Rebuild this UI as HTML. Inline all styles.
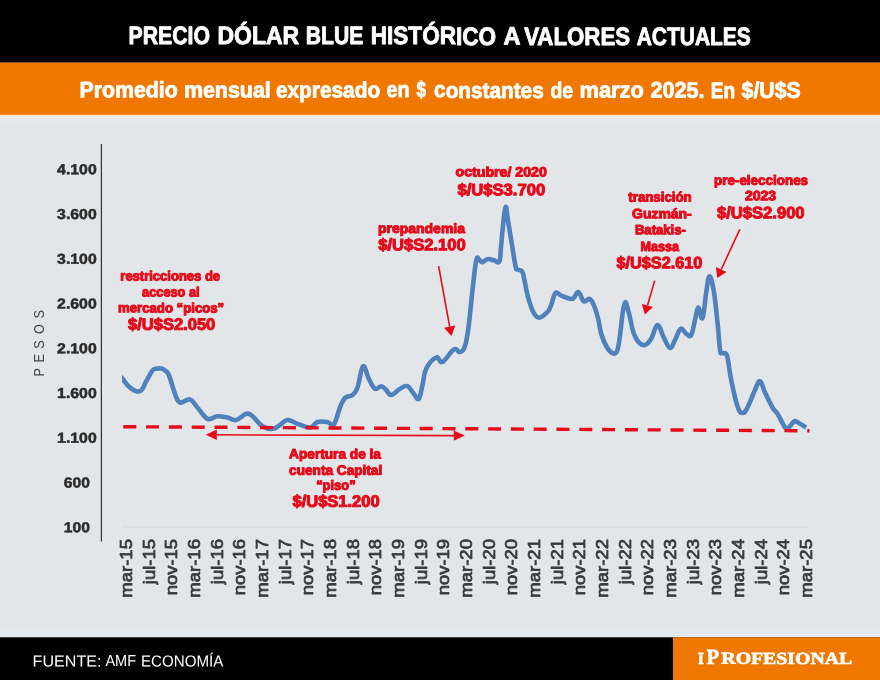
<!DOCTYPE html>
<html lang="es"><head><meta charset="utf-8"><title>Precio dólar blue histórico a valores actuales</title>
<style>
html,body{margin:0;padding:0;background:#e3e6e8;}
body{width:880px;height:680px;overflow:hidden;}
svg{display:block;}
text{font-family:"Liberation Sans",sans-serif;}
.b{font-weight:bold;fill:#fff;stroke:#fff;stroke-linejoin:round;}
.t1{font-size:25px;stroke-width:0.9px;}
.t2{font-size:22.35px;stroke-width:0.8px;}
.r{fill:#e60a1a;font-weight:bold;stroke:#e60a1a;stroke-width:1.05px;stroke-linejoin:round;}
.ft{font-size:15.9px;fill:#fff;}
.yl{fill:#2b2b2b;font-weight:bold;font-size:14.4px;stroke:#2b2b2b;stroke-width:0.5px;stroke-linejoin:round;}
.xl{fill:#3a3a3a;font-size:16.9px;stroke:#3a3a3a;stroke-width:0.75px;stroke-linejoin:round;}
.logo{font-family:"Liberation Serif",serif;font-weight:bold;fill:#fff;stroke:#fff;stroke-width:0.7px;}
</style></head><body>
<svg width="880" height="680" viewBox="0 0 880 680">
<rect x="0" y="0" width="880" height="680" fill="#e3e6e8"/>
<rect x="0" y="0" width="880" height="62.7" fill="#000"/>
<rect x="0" y="62.7" width="880" height="52.8" fill="#f07800"/>
<rect x="0" y="114.8" width="880" height="1.7" fill="#fbe2c6"/>
<rect x="0" y="116.5" width="880" height="1.5" fill="#f1eeea"/>
<rect x="0" y="118" width="880" height="4" fill="#e2e8ec"/>
<rect x="0" y="628" width="880" height="9.3" fill="#e4e9ed"/>
<rect x="0" y="637.3" width="880" height="42.7" fill="#000"/>
<rect x="673" y="637.3" width="207" height="42.7" fill="#f07800"/>
<text class="b t1" y="44.5" transform="rotate(0.03 440 36)">
<tspan x="128.50" textLength="81.43" lengthAdjust="spacingAndGlyphs">PRECIO</tspan>
<tspan x="217.53" textLength="81.57" lengthAdjust="spacingAndGlyphs">DÓLAR</tspan>
<tspan x="305.80" textLength="57.52" lengthAdjust="spacingAndGlyphs">BLUE</tspan>
<tspan x="370.75" textLength="125.41" lengthAdjust="spacingAndGlyphs">HISTÓRICO</tspan>
<tspan x="503.45" textLength="16.15" lengthAdjust="spacingAndGlyphs">A</tspan>
<tspan x="524.15" textLength="106.00" lengthAdjust="spacingAndGlyphs">VALORES</tspan>
<tspan x="636.65" textLength="114.17" lengthAdjust="spacingAndGlyphs">ACTUALES</tspan>
</text>
<text class="b t2" y="97.5" transform="rotate(0.03 441 90)">
<tspan x="79.45" textLength="98.27" lengthAdjust="spacingAndGlyphs">Promedio</tspan>
<tspan x="183.94" textLength="86.81" lengthAdjust="spacingAndGlyphs">mensual</tspan>
<tspan x="275.90" textLength="104.31" lengthAdjust="spacingAndGlyphs">expresado</tspan>
<tspan x="386.60" textLength="23.07" lengthAdjust="spacingAndGlyphs">en</tspan>
<tspan x="416.60" textLength="9.56" lengthAdjust="spacingAndGlyphs">$</tspan>
<tspan x="434.10" textLength="109.60" lengthAdjust="spacingAndGlyphs">constantes</tspan>
<tspan x="550.40" textLength="22.57" lengthAdjust="spacingAndGlyphs">de</tspan>
<tspan x="579.42" textLength="64.52" lengthAdjust="spacingAndGlyphs">marzo</tspan>
<tspan x="650.40" textLength="54.07" lengthAdjust="spacingAndGlyphs">2025.</tspan>
<tspan x="710.75" textLength="24.41" lengthAdjust="spacingAndGlyphs">En</tspan>
<tspan x="741.60" textLength="59.11" lengthAdjust="spacingAndGlyphs">$/U$S</tspan>
</text>
<text class="ft" y="666.5" transform="rotate(0.03 129 661)">
<tspan x="32.59" textLength="68.85" lengthAdjust="spacingAndGlyphs">FUENTE:</tspan>
<tspan x="105.40" textLength="30.63" lengthAdjust="spacingAndGlyphs">AMF</tspan>
<tspan x="140.95" textLength="82.37" lengthAdjust="spacingAndGlyphs">ECONOMÍA</tspan>
</text>
<text class="logo" y="663.9" transform="rotate(0.03 775 658)"><tspan x="698.05" font-size="17" textLength="5.86" lengthAdjust="spacingAndGlyphs">I</tspan><tspan x="706.65" font-size="21.6" textLength="12.18" lengthAdjust="spacingAndGlyphs">P</tspan><tspan x="721.35" font-size="17" textLength="130.89" lengthAdjust="spacingAndGlyphs">ROFESIONAL</tspan></text>
<rect x="100.8" y="144" width="1.1" height="397.5" fill="#222"/>
<rect x="122" y="526.3" width="685.5" height="1.3" fill="#d6d9db"/>
<text class="yl" x="57.10" y="174.30" textLength="39.60" lengthAdjust="spacingAndGlyphs" transform="rotate(0.03 77 169)">4.100</text>
<text class="yl" x="57.10" y="219.05" textLength="39.60" lengthAdjust="spacingAndGlyphs" transform="rotate(0.03 77 214)">3.600</text>
<text class="yl" x="57.10" y="263.80" textLength="39.60" lengthAdjust="spacingAndGlyphs" transform="rotate(0.03 77 259)">3.100</text>
<text class="yl" x="57.10" y="308.55" textLength="39.60" lengthAdjust="spacingAndGlyphs" transform="rotate(0.03 77 304)">2.600</text>
<text class="yl" x="57.10" y="353.30" textLength="39.60" lengthAdjust="spacingAndGlyphs" transform="rotate(0.03 77 348)">2.100</text>
<text class="yl" x="57.10" y="398.05" textLength="39.60" lengthAdjust="spacingAndGlyphs" transform="rotate(0.03 77 393)">1.600</text>
<text class="yl" x="57.10" y="442.80" textLength="39.60" lengthAdjust="spacingAndGlyphs" transform="rotate(0.03 77 438)">1.100</text>
<text class="yl" x="63.85" y="487.55" textLength="26.10" lengthAdjust="spacingAndGlyphs" transform="rotate(0.03 77 483)">600</text>
<text class="yl" x="63.85" y="532.30" textLength="26.10" lengthAdjust="spacingAndGlyphs" transform="rotate(0.03 77 527)">100</text>
<text transform="translate(44.4 375.4) rotate(-90) scale(0.86 1)" font-size="14.8" fill="#444" x="-1.20 14.98 30.93 48.02 66.04">PESOS</text>
<text class="xl" transform="translate(131.90 597.80) rotate(-90)" textLength="58.8" lengthAdjust="spacingAndGlyphs">mar-15</text>
<text class="xl" transform="translate(154.57 584.20) rotate(-90)" textLength="45.2" lengthAdjust="spacingAndGlyphs">jul-15</text>
<text class="xl" transform="translate(177.23 595.20) rotate(-90)" textLength="56.2" lengthAdjust="spacingAndGlyphs">nov-15</text>
<text class="xl" transform="translate(199.90 597.80) rotate(-90)" textLength="58.8" lengthAdjust="spacingAndGlyphs">mar-16</text>
<text class="xl" transform="translate(222.57 584.20) rotate(-90)" textLength="45.2" lengthAdjust="spacingAndGlyphs">jul-16</text>
<text class="xl" transform="translate(245.24 595.20) rotate(-90)" textLength="56.2" lengthAdjust="spacingAndGlyphs">nov-16</text>
<text class="xl" transform="translate(267.90 597.80) rotate(-90)" textLength="58.8" lengthAdjust="spacingAndGlyphs">mar-17</text>
<text class="xl" transform="translate(290.57 584.20) rotate(-90)" textLength="45.2" lengthAdjust="spacingAndGlyphs">jul-17</text>
<text class="xl" transform="translate(313.24 595.20) rotate(-90)" textLength="56.2" lengthAdjust="spacingAndGlyphs">nov-17</text>
<text class="xl" transform="translate(335.90 597.80) rotate(-90)" textLength="58.8" lengthAdjust="spacingAndGlyphs">mar-18</text>
<text class="xl" transform="translate(358.57 584.20) rotate(-90)" textLength="45.2" lengthAdjust="spacingAndGlyphs">jul-18</text>
<text class="xl" transform="translate(381.24 595.20) rotate(-90)" textLength="56.2" lengthAdjust="spacingAndGlyphs">nov-18</text>
<text class="xl" transform="translate(403.90 597.80) rotate(-90)" textLength="58.8" lengthAdjust="spacingAndGlyphs">mar-19</text>
<text class="xl" transform="translate(426.57 584.20) rotate(-90)" textLength="45.2" lengthAdjust="spacingAndGlyphs">jul-19</text>
<text class="xl" transform="translate(449.24 595.20) rotate(-90)" textLength="56.2" lengthAdjust="spacingAndGlyphs">nov-19</text>
<text class="xl" transform="translate(471.90 597.80) rotate(-90)" textLength="58.8" lengthAdjust="spacingAndGlyphs">mar-20</text>
<text class="xl" transform="translate(494.57 584.20) rotate(-90)" textLength="45.2" lengthAdjust="spacingAndGlyphs">jul-20</text>
<text class="xl" transform="translate(517.24 595.20) rotate(-90)" textLength="56.2" lengthAdjust="spacingAndGlyphs">nov-20</text>
<text class="xl" transform="translate(539.91 597.80) rotate(-90)" textLength="58.8" lengthAdjust="spacingAndGlyphs">mar-21</text>
<text class="xl" transform="translate(562.57 584.20) rotate(-90)" textLength="45.2" lengthAdjust="spacingAndGlyphs">jul-21</text>
<text class="xl" transform="translate(585.24 595.20) rotate(-90)" textLength="56.2" lengthAdjust="spacingAndGlyphs">nov-21</text>
<text class="xl" transform="translate(607.91 597.80) rotate(-90)" textLength="58.8" lengthAdjust="spacingAndGlyphs">mar-22</text>
<text class="xl" transform="translate(630.57 584.20) rotate(-90)" textLength="45.2" lengthAdjust="spacingAndGlyphs">jul-22</text>
<text class="xl" transform="translate(653.24 595.20) rotate(-90)" textLength="56.2" lengthAdjust="spacingAndGlyphs">nov-22</text>
<text class="xl" transform="translate(675.91 597.80) rotate(-90)" textLength="58.8" lengthAdjust="spacingAndGlyphs">mar-23</text>
<text class="xl" transform="translate(698.58 584.20) rotate(-90)" textLength="45.2" lengthAdjust="spacingAndGlyphs">jul-23</text>
<text class="xl" transform="translate(721.24 595.20) rotate(-90)" textLength="56.2" lengthAdjust="spacingAndGlyphs">nov-23</text>
<text class="xl" transform="translate(743.91 597.80) rotate(-90)" textLength="58.8" lengthAdjust="spacingAndGlyphs">mar-24</text>
<text class="xl" transform="translate(766.58 584.20) rotate(-90)" textLength="45.2" lengthAdjust="spacingAndGlyphs">jul-24</text>
<text class="xl" transform="translate(789.24 595.20) rotate(-90)" textLength="56.2" lengthAdjust="spacingAndGlyphs">nov-24</text>
<text class="xl" transform="translate(811.91 597.80) rotate(-90)" textLength="58.8" lengthAdjust="spacingAndGlyphs">mar-25</text>
<clipPath id="plot"><rect x="122" y="140" width="700" height="400"/></clipPath>
<path clip-path="url(#plot)" d="M118.5 373.5C119.3 374.6 120.2 375.9 122.5 378.8C124.8 381.6 126.5 385.0 130.0 387.5C133.5 390.0 136.8 392.5 140.0 391.2C143.2 390.0 143.8 385.4 146.2 381.2C148.8 377.1 150.4 373.0 152.5 370.5C154.6 368.0 154.7 369.1 156.5 368.7C158.3 368.3 159.8 368.2 161.5 368.6C163.2 369.0 163.6 369.2 165.0 370.5C166.4 371.8 166.8 370.4 168.8 375.0C170.8 379.6 172.8 388.2 175.0 393.8C177.2 399.2 177.0 401.4 180.0 402.5C183.0 403.6 186.5 398.5 190.0 399.5C193.5 400.5 194.0 403.6 197.5 407.5C201.0 411.4 203.5 417.0 207.5 418.8C211.5 420.5 213.5 416.5 217.5 416.2C221.5 416.0 223.8 416.8 227.5 417.5C231.2 418.2 232.5 420.8 236.2 420.0C240.0 419.2 243.0 414.5 246.2 413.8C249.5 413.0 249.2 413.8 252.5 416.2C255.8 418.8 258.5 423.8 262.5 426.2C266.5 428.8 269.0 429.0 272.5 428.8C276.0 428.5 277.0 426.8 280.0 425.0C283.0 423.2 284.0 420.2 287.5 420.0C291.0 419.8 293.0 422.2 297.5 423.8C302.0 425.2 306.0 427.9 310.0 427.5C314.0 427.1 314.0 423.1 317.5 422.0C321.0 420.9 324.2 421.5 327.5 422.0C330.8 422.5 331.2 427.4 333.8 424.5C336.2 421.6 337.8 412.8 340.0 407.5C342.2 402.2 342.5 400.5 345.0 398.0C347.5 395.5 350.0 397.1 352.5 395.0C355.0 392.9 355.4 393.2 357.5 387.5C359.6 381.8 360.8 368.0 363.0 366.2C365.2 364.5 366.4 374.2 368.8 378.8C371.1 383.2 372.5 387.2 375.0 388.8C377.5 390.2 379.0 386.0 381.2 386.2C383.5 386.5 384.2 388.2 386.2 390.0C388.2 391.8 388.5 395.2 391.2 395.0C394.0 394.8 396.8 390.5 400.0 388.8C403.2 387.0 404.8 385.2 407.5 386.2C410.2 387.2 411.5 391.2 413.8 393.8C416.0 396.2 417.0 400.5 418.8 398.8C420.5 397.0 421.0 391.0 422.5 385.0C424.0 379.0 423.5 374.2 426.2 368.8C429.0 363.2 433.0 358.9 436.2 357.5C439.5 356.1 439.0 363.6 442.5 362.0C446.0 360.4 450.2 351.5 453.8 349.5C457.2 347.5 457.8 352.7 460.0 352.0C462.2 351.3 463.2 351.4 465.0 346.0C466.8 340.6 467.2 336.2 468.8 325.0C470.2 313.8 471.2 301.8 472.5 290.0C473.8 278.2 474.4 272.4 475.3 266.0C476.2 259.6 476.3 259.3 477.0 258.0C477.7 256.7 478.0 258.6 479.0 259.5C480.0 260.4 480.8 262.1 482.0 262.3C483.2 262.5 483.7 261.2 485.0 260.5C486.3 259.8 486.7 259.0 488.5 259.0C490.3 259.0 491.8 259.8 494.0 260.3C496.2 260.8 497.9 264.2 499.3 261.5C500.7 258.8 500.3 254.1 501.0 247.0C501.7 239.9 502.1 234.0 503.0 226.0C503.9 218.0 504.6 207.6 505.6 206.8C506.6 206.0 506.9 214.4 508.2 222.0C509.5 229.6 510.5 236.1 512.0 245.0C513.5 253.9 514.5 261.6 515.6 266.5C516.7 271.4 516.2 268.5 517.5 269.5C518.8 270.5 520.7 269.6 522.0 271.3C523.3 273.0 522.9 273.3 524.0 278.0C525.1 282.7 526.0 289.0 527.5 295.0C529.0 301.0 530.0 304.0 531.5 308.0C533.0 312.0 533.5 312.8 535.0 314.8C536.5 316.8 537.3 317.7 539.0 317.8C540.7 317.9 541.6 316.9 543.5 315.5C545.4 314.1 546.9 313.1 548.5 310.8C550.1 308.5 550.4 307.0 551.5 304.0C552.6 301.0 553.0 298.3 554.0 296.0C555.0 293.7 554.9 292.4 556.6 292.5C558.3 292.6 559.3 295.0 562.5 296.2C565.7 297.5 569.4 299.6 572.5 298.8C575.6 297.9 576.0 291.5 578.2 292.0C580.5 292.5 581.5 299.9 583.8 301.2C586.0 302.6 587.5 298.0 589.5 298.8C591.5 299.5 592.0 301.1 593.8 305.0C595.5 308.9 596.5 312.2 598.0 318.0C599.5 323.8 599.6 328.3 601.3 334.0C603.0 339.7 604.3 342.7 606.5 346.5C608.7 350.3 610.4 352.3 612.5 353.2C614.6 354.1 615.5 354.2 617.0 351.0C618.5 347.8 618.6 344.8 619.8 337.0C621.0 329.2 621.7 318.9 622.8 312.0C623.9 305.1 624.4 303.1 625.3 302.3C626.2 301.5 626.6 305.0 627.5 308.0C628.4 311.0 628.8 312.4 630.0 317.5C631.2 322.6 632.0 328.5 633.8 333.5C635.5 338.5 636.5 340.0 638.8 342.3C641.0 344.6 642.5 345.7 645.0 345.0C647.5 344.3 648.8 342.8 651.2 338.8C653.8 334.8 655.0 325.2 657.5 325.0C660.0 324.8 661.2 332.9 663.8 337.5C666.2 342.1 667.8 347.5 670.0 348.0C672.2 348.5 672.9 343.9 675.0 340.0C677.1 336.1 678.5 330.0 680.8 328.8C683.0 327.5 684.1 332.5 686.2 333.8C688.4 335.0 689.5 337.8 691.2 335.0C693.0 332.2 693.6 325.5 695.0 320.0C696.4 314.5 696.8 307.9 698.2 307.5C699.8 307.1 700.9 321.0 702.5 318.0C704.1 315.0 704.9 300.9 706.2 292.5C707.6 284.1 708.0 276.5 709.5 276.2C711.0 276.0 712.1 282.0 713.8 291.2C715.4 300.5 716.2 310.9 717.5 322.5C718.8 334.1 719.1 343.4 720.0 349.5C720.9 355.6 720.5 352.1 721.8 353.0C723.1 353.9 725.0 352.2 726.3 354.0C727.6 355.8 727.3 356.8 728.3 362.0C729.3 367.2 729.4 371.1 731.2 380.0C733.1 388.9 735.2 399.6 737.5 406.2C739.8 412.9 740.5 412.8 742.5 413.0C744.5 413.2 745.0 412.1 747.5 407.5C750.0 402.9 752.5 395.2 755.0 390.0C757.5 384.8 758.0 380.8 760.0 381.2C762.0 381.8 762.5 387.2 765.0 392.5C767.5 397.8 770.0 403.2 772.5 407.5C775.0 411.8 775.3 410.2 777.5 413.8C779.7 417.2 781.8 422.1 783.5 425.0C785.2 427.9 785.0 427.9 786.0 428.4C787.0 428.9 787.7 428.0 788.5 427.6C789.3 427.2 788.8 427.5 790.0 426.2C791.2 425.0 792.5 421.8 794.5 421.2C796.5 420.8 797.6 422.5 800.0 423.8C802.4 425.0 805.0 426.8 806.2 427.5" fill="none" stroke="#4f81bd" stroke-width="4.6" stroke-linejoin="round" stroke-linecap="butt"/>
<line x1="123.3" y1="426.7" x2="809.5" y2="430.8" stroke="#e60a1a" stroke-width="3.4" stroke-dasharray="13 9.8"/>
<line x1="212" y1="434.8" x2="458" y2="435.6" stroke="#e60a1a" stroke-width="1.6"/>
<polygon points="205.8,434.8 216.8,429.6 216.8,440" fill="#e60a1a"/>
<polygon points="464.8,435.6 453.8,430.4 453.8,440.8" fill="#e60a1a"/>
<line x1="438.6" y1="266.2" x2="449.7" y2="326.7" stroke="#e60a1a" stroke-width="1.6"/>
<polygon points="451.4,336.0 444.0,327.7 455.4,325.6" fill="#e60a1a"/>
<line x1="654.7" y1="280.6" x2="647.5" y2="305.5" stroke="#e60a1a" stroke-width="1.6"/>
<polygon points="644.8,314.6 641.9,303.9 653.0,307.1" fill="#e60a1a"/>
<line x1="739.8" y1="229.3" x2="721.2" y2="269.5" stroke="#e60a1a" stroke-width="1.6"/>
<polygon points="717.2,278.1 715.9,267.0 726.5,271.9" fill="#e60a1a"/>
<text class="r" x="120.33" y="280.6" font-size="13.5" textLength="99.78" lengthAdjust="spacingAndGlyphs" transform="rotate(0.03 170 276)">restricciones de</text>
<text class="r" x="142.12" y="296.4" font-size="13.5" textLength="57.46" lengthAdjust="spacingAndGlyphs" transform="rotate(0.03 170 291)">acceso al</text>
<text class="r" x="118.03" y="312.4" font-size="13.5" textLength="106.18" lengthAdjust="spacingAndGlyphs" transform="rotate(0.03 171 307)">mercado “picos”</text>
<text class="r" x="128.03" y="329.8" font-size="16.4" textLength="87.27" lengthAdjust="spacingAndGlyphs" transform="rotate(0.03 172 325)">$/U$S2.050</text>
<text class="r" x="378.02" y="232.9" font-size="13.5" textLength="86.94" lengthAdjust="spacingAndGlyphs" transform="rotate(0.03 422 228)">prepandemia</text>
<text class="r" x="378.22" y="250.3" font-size="16.4" textLength="87.57" lengthAdjust="spacingAndGlyphs" transform="rotate(0.03 422 245)">$/U$S2.100</text>
<text class="r" x="455.52" y="176.4" font-size="13.5" textLength="91.38" lengthAdjust="spacingAndGlyphs" transform="rotate(0.03 501 171)">octubre/ 2020</text>
<text class="r" x="457.42" y="195.3" font-size="16.4" textLength="87.77" lengthAdjust="spacingAndGlyphs" transform="rotate(0.03 501 190)">$/U$S3.700</text>
<text class="r" x="628.32" y="201.6" font-size="13.5" textLength="63.39" lengthAdjust="spacingAndGlyphs" transform="rotate(0.03 660 197)">transición</text>
<text class="r" x="632.02" y="218.2" font-size="13.5" textLength="59.76" lengthAdjust="spacingAndGlyphs" transform="rotate(0.03 662 213)">Guzmán-</text>
<text class="r" x="634.92" y="234.3" font-size="13.5" textLength="50.93" lengthAdjust="spacingAndGlyphs" transform="rotate(0.03 660 229)">Batakis-</text>
<text class="r" x="640.52" y="250.6" font-size="13.5" textLength="38.49" lengthAdjust="spacingAndGlyphs" transform="rotate(0.03 660 246)">Massa</text>
<text class="r" x="616.52" y="268.3" font-size="16.4" textLength="85.86" lengthAdjust="spacingAndGlyphs" transform="rotate(0.03 659 263)">$/U$S2.610</text>
<text class="r" x="714.02" y="184.7" font-size="13.5" textLength="94.06" lengthAdjust="spacingAndGlyphs" transform="rotate(0.03 761 180)">pre-elecciones</text>
<text class="r" x="744.92" y="200.2" font-size="13.5" textLength="31.24" lengthAdjust="spacingAndGlyphs" transform="rotate(0.03 761 195)">2023</text>
<text class="r" x="717.02" y="218.2" font-size="16.4" textLength="87.57" lengthAdjust="spacingAndGlyphs" transform="rotate(0.03 761 213)">$/U$S2.900</text>
<text class="r" x="289.12" y="458.4" font-size="13.5" textLength="91.85" lengthAdjust="spacingAndGlyphs" transform="rotate(0.03 335 453)">Apertura de la</text>
<text class="r" x="289.12" y="474.8" font-size="13.5" textLength="93.11" lengthAdjust="spacingAndGlyphs" transform="rotate(0.03 335 470)">cuenta Capital</text>
<text class="r" x="316.17" y="489.8" font-size="13.5" textLength="39.53" lengthAdjust="spacingAndGlyphs" transform="rotate(0.03 336 485)">“piso”</text>
<text class="r" x="292.52" y="506.8" font-size="16.4" textLength="87.07" lengthAdjust="spacingAndGlyphs" transform="rotate(0.03 336 502)">$/U$S1.200</text>
</svg></body></html>
